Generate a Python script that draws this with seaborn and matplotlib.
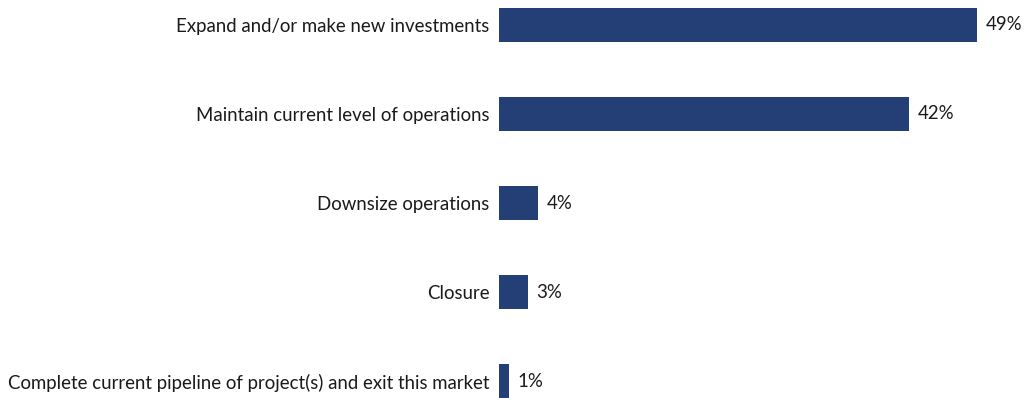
import matplotlib
matplotlib.use("Agg")
import matplotlib.pyplot as plt
import seaborn as sns
import pandas as pd

categories = [
    "Expand and/or make new investments",
    "Maintain current level of operations",
    "Downsize operations",
    "Closure",
    "Complete current pipeline of project(s) and exit this market",
]
shares = [49, 42, 4, 3, 1]

BAR_COLOR = "#243E76"
TEXT_COLOR = "#1a1a1a"

sns.set_theme(style="white")
plt.rcParams["font.family"] = ["Lato", "DejaVu Sans"]

df = pd.DataFrame({"option": categories, "share": shares})

fig = plt.figure(figsize=(10.27, 3.98), dpi=100)
ax = fig.add_axes([499 / 1027, 0, 528 / 1027, 1])

sns.barplot(data=df, y="option", x="share", orient="h", color=BAR_COLOR,
            width=0.38, saturation=1, linewidth=0, ax=ax)

ax.set_xlim(0, 54.1)
ax.set_ylim(4.19, -0.28)
ax.set_xlabel("")
ax.set_ylabel("")
ax.set_xticks([])
ax.tick_params(axis="y", length=0, pad=7, labelsize=13.4, labelcolor=TEXT_COLOR)
for s in ax.spines.values():
    s.set_visible(False)

for cont in ax.containers:
    ax.bar_label(cont, fmt="%g%%", padding=6, fontsize=13.4, color=TEXT_COLOR)

fig.savefig("out.png", dpi=100)
